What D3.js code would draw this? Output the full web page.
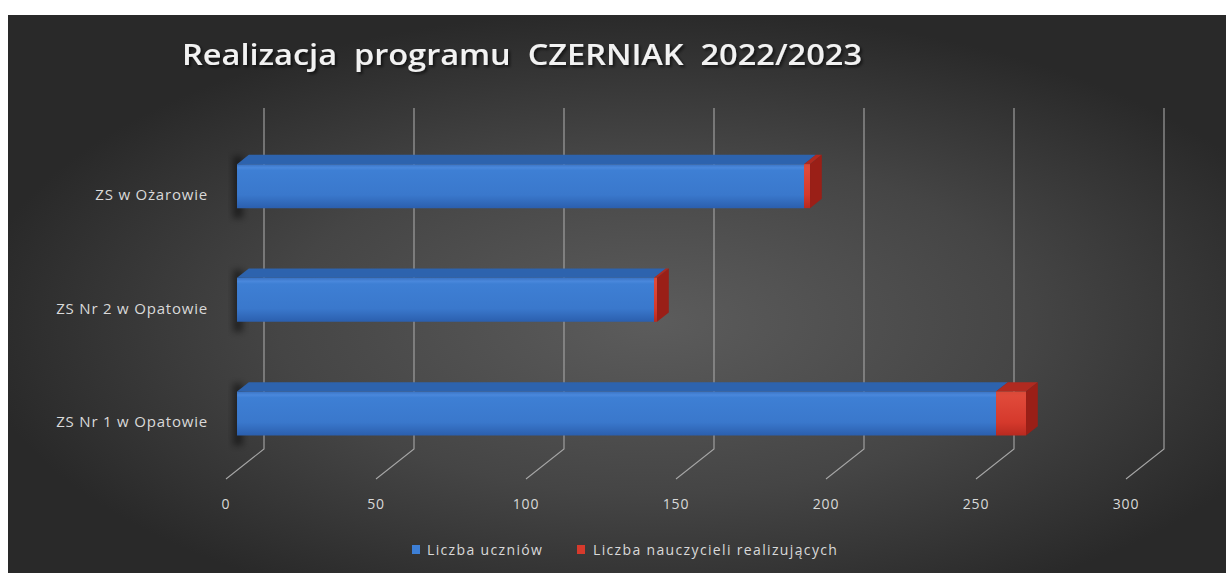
<!DOCTYPE html>
<html>
<head>
<meta charset="utf-8">
<script src="https://cdn.jsdelivr.net/npm/d3@7"></script>
<style>
  html, body { margin: 0; padding: 0; background: #ffffff; }
  svg { display: block; }
  text { font-family: "Open Sans", "DejaVu Sans", sans-serif; white-space: pre; }
</style>
</head>
<body>
<div class="chart"></div>
<script>
var categories = ['ZS w Ożarowie', 'ZS Nr 2 w Opatowie', 'ZS Nr 1 w Opatowie'];
var seriesNames = ['Liczba uczniów', 'Liczba nauczycieli realizujących'];
var uczniowie = [189, 139, 253];
var nauczyciele = [2, 1, 10];
var tickValues = [0, 50, 100, 150, 200, 250, 300];
var titleText = 'Realizacja  programu  CZERNIAK  2022/2023';

var WIDTH = 1226, HEIGHT = 573;
// depth offset of the 3d box (front -> back)
var DX = 38, DY = -30;
var BAR_T0 = 0.29, BAR_T1 = 0.6;

var xScale = d3.scaleLinear().domain([0, 300]).range([226, 1126]);
var yScale = d3.scaleBand().domain(categories).range([138, 479]);

var px = function(v, t) { return xScale(v) + t * DX; };
var py = function(y, t) { return y + t * DY; };

var svg = d3.select('.chart').append('svg')
	.attr('width', WIDTH)
	.attr('height', HEIGHT);

var defs = svg.append('defs');

var bg = defs.append('radialGradient').attr('id', 'bg')
	.attr('cx', 0.53).attr('cy', 0.55).attr('r', 0.56);
bg.append('stop').attr('offset', '0%').attr('stop-color', '#5c5c5c');
bg.append('stop').attr('offset', '55%').attr('stop-color', '#454545');
bg.append('stop').attr('offset', '100%').attr('stop-color', '#292929');

var addVGrad = function(id, stops) {
	var g = defs.append('linearGradient').attr('id', id)
		.attr('x1', 0).attr('y1', 0).attr('x2', 0).attr('y2', 1);
	stops.forEach(function(s) {
		g.append('stop').attr('offset', s[0]).attr('stop-color', s[1]);
	});
};
addVGrad('blueFront', [['0%', '#3a73c4'], ['8%', '#4a88dc'], ['14%', '#3e7fd4'], ['70%', '#3a78cc'], ['100%', '#2b5fae']]);
addVGrad('redFront', [['0%', '#d84a38'], ['10%', '#e04a3a'], ['70%', '#d5392c'], ['100%', '#b82a20']]);

var sh = defs.append('filter').attr('id', 'shadow')
	.attr('x', '-50%').attr('y', '-20%').attr('width', '200%').attr('height', '140%');
sh.append('feGaussianBlur').attr('stdDeviation', 3);

var ts = defs.append('filter').attr('id', 'tshadow');
ts.append('feDropShadow').attr('dx', 2).attr('dy', 2).attr('stdDeviation', 1.5)
	.attr('flood-color', '#000').attr('flood-opacity', 0.6);

svg.append('rect')
	.attr('x', 8).attr('y', 15)
	.attr('width', WIDTH - 8).attr('height', HEIGHT - 15)
	.attr('fill', 'url(#bg)');

// title
svg.append('text')
	.attr('x', 182).attr('y', 65)
	.attr('textLength', 680)
	.attr('lengthAdjust', 'spacingAndGlyphs')
	.attr('fill', '#f2f2f2')
	.attr('font-size', 28)
	.attr('font-weight', 600)
	.attr('filter', 'url(#tshadow)')
	.text(titleText);

// gridlines: back wall + floor
var yTop = yScale.range()[0], yBot = yScale.range()[1];
var grid = svg.append('g');
grid.selectAll('path').data(tickValues).enter().append('path')
	.attr('fill', 'none')
	.attr('stroke', '#a6a6a6')
	.attr('stroke-width', 1.1)
	.attr('d', function(d) {
		return 'M' + px(d, 1) + ',' + py(yTop, 1) +
			'L' + px(d, 1) + ',' + py(yBot, 1) +
			'L' + px(d, 0) + ',' + py(yBot, 0);
	});

// tick labels
svg.append('g').selectAll('text').data(tickValues).enter().append('text')
	.attr('x', function(d) { return xScale(d); })
	.attr('y', 509)
	.attr('text-anchor', 'middle')
	.attr('fill', '#d9d9d9')
	.attr('font-size', 14)
	.attr('letter-spacing', 0.8)
	.text(function(d) { return d; });

// category labels
svg.append('g').selectAll('text').data(categories).enter().append('text')
	.attr('x', 208)
	.attr('y', function(d) { return yScale(d) + yScale.bandwidth() / 2 + 5; })
	.attr('text-anchor', 'end')
	.attr('fill', '#d9d9d9')
	.attr('font-size', 15)
	.attr('letter-spacing', 0.8)
	.text(function(d) { return d; });

// stacked 3d bars
var stackData = categories.map(function(c, i) {
	return { cat: c, u: uczniowie[i], n: nauczyciele[i] };
});
var stacked = d3.stack().keys(['u', 'n'])(stackData);

var BAR_H = 44;
var poly = function(pts) { return 'M' + pts.map(function(p) { return p.join(','); }).join('L') + 'Z'; };

var barGroup = svg.append('g');
stackData.forEach(function(row, i) {
	var yc = yScale(row.cat) + yScale.bandwidth() / 2;
	var y0 = py(yc - BAR_H / 2, BAR_T0), y1 = py(yc + BAR_H / 2, BAR_T0);
	var g = barGroup.append('g');

	// shadow at the left end
	g.append('path')
		.attr('d', poly([[px(0, BAR_T0) - 4, y0 - 8], [px(0, BAR_T0) + 6, y0 - 8], [px(0, BAR_T0) + 6, y1 + 10], [px(0, BAR_T0) - 4, y1 + 10]]))
		.attr('fill', '#000').attr('opacity', 0.45)
		.attr('filter', 'url(#shadow)');

	stacked.forEach(function(layer, k) {
		var a = layer[i][0], b = layer[i][1];
		var isLast = k === stacked.length - 1;
		var front = k === 0 ? 'url(#blueFront)' : 'url(#redFront)';
		var top = k === 0 ? '#2d63ae' : '#b02a20';
		var side = k === 0 ? '#24508f' : '#9a1f17';

		g.append('path')
			.attr('d', poly([[px(a, BAR_T0), y0], [px(b, BAR_T0), y0],
				[px(b, BAR_T1), y0 + (BAR_T1 - BAR_T0) * DY], [px(a, BAR_T1), y0 + (BAR_T1 - BAR_T0) * DY]]))
			.attr('fill', top);
		g.append('path')
			.attr('d', poly([[px(a, BAR_T0), y0], [px(b, BAR_T0), y0], [px(b, BAR_T0), y1], [px(a, BAR_T0), y1]]))
			.attr('fill', front);
		if (isLast) {
			g.append('path')
				.attr('d', poly([[px(b, BAR_T0), y0], [px(b, BAR_T1), y0 + (BAR_T1 - BAR_T0) * DY],
					[px(b, BAR_T1), y1 + (BAR_T1 - BAR_T0) * DY], [px(b, BAR_T0), y1]]))
				.attr('fill', side);
		}
	});
});

// legend
var legend = svg.append('g');
var legendItems = [
	{ name: seriesNames[0], color: '#3d7fd6', x: 412, tx: 427 },
	{ name: seriesNames[1], color: '#d63a2c', x: 577, tx: 593 }
];
legendItems.forEach(function(d) {
	legend.append('rect')
		.attr('x', d.x).attr('y', 545)
		.attr('width', 8).attr('height', 9)
		.attr('fill', d.color);
	legend.append('text')
		.attr('x', d.tx).attr('y', 555)
		.attr('fill', '#d9d9d9')
		.attr('font-size', 14)
		.attr('letter-spacing', 1.35)
		.text(d.name);
});
</script>
</body>
</html>
